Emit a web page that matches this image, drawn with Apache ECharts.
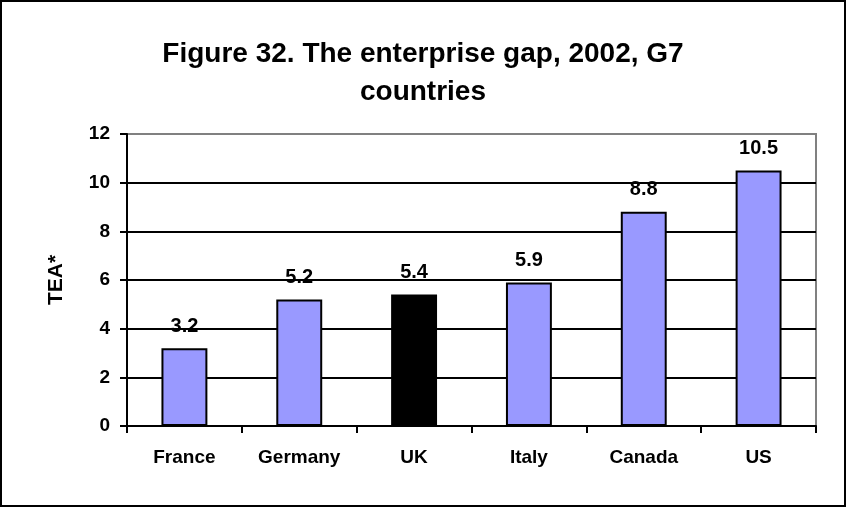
<!DOCTYPE html>
<html>
<head>
<meta charset="utf-8">
<script src="https://cdn.jsdelivr.net/npm/echarts@6/dist/echarts.min.js"></script>
<style>
  html, body { margin: 0; padding: 0; background: #fff; }
  #chart { width: 846px; height: 507px; box-sizing: border-box; border: 2px solid #000; }
</style>
</head>
<body>
<div id="chart"></div>
<script>
// values
const countries = ['France', 'Germany', 'UK', 'Italy', 'Canada', 'US'];
const teaValues = [3.2, 5.2, 5.4, 5.9, 8.8, 10.5];
const highlight = 'UK';

const font = 'Arial, "Liberation Sans", sans-serif';

const chart = echarts.init(document.getElementById('chart'), null, { renderer: 'canvas' });

chart.setOption({
    animation: false,
    title: {
        text: 'Figure 32. The enterprise gap, 2002, G7\ncountries',
        left: 'center',
        top: 28,
        textStyle: {
            fontFamily: font,
            fontSize: 28,
            fontWeight: 'bold',
            color: '#000',
            lineHeight: 38
        }
    },
    grid: {
        left: 125,
        right: 28,
        top: 132,
        bottom: 79,
        show: true,
        borderColor: '#808080',
        borderWidth: 2
    },
    xAxis: {
        type: 'category',
        data: countries,
        axisLine: { lineStyle: { color: '#000', width: 2 } },
        axisTick: { show: true, alignWithLabel: false, length: 7, lineStyle: { color: '#000', width: 2 } },
        axisLabel: {
            margin: 22,
            fontFamily: font,
            fontSize: 19,
            fontWeight: 'bold',
            color: '#000'
        }
    },
    yAxis: {
        type: 'value',
        min: 0,
        max: 12,
        interval: 2,
        name: 'TEA*',
        nameLocation: 'middle',
        nameGap: 60,
        nameTextStyle: {
            fontFamily: font,
            fontSize: 21,
            fontWeight: 'bold',
            color: '#000'
        },
        axisLine: { show: true, lineStyle: { color: '#000', width: 2 } },
        axisTick: { show: true, length: 7, lineStyle: { color: '#000', width: 2 } },
        axisLabel: {
            margin: 17,
            fontFamily: font,
            fontSize: 19,
            fontWeight: 'bold',
            color: '#000'
        },
        splitLine: {
            lineStyle: {
                color: ['#000', '#000', '#000', '#000', '#000', '#000', '#808080'],
                width: 2
            }
        }
    },
    series: [{
        type: 'bar',
        barWidth: '40%',
        data: teaValues.map((v, i) => ({
            value: v,
            itemStyle: { color: countries[i] === highlight ? '#000' : '#9999ff' }
        })),
        itemStyle: { borderColor: '#000', borderWidth: 2 },
        label: {
            show: true,
            position: 'top',
            distance: 12,
            fontFamily: font,
            fontSize: 20,
            fontWeight: 'bold',
            color: '#000'
        }
    }]
});
</script>
</body>
</html>
